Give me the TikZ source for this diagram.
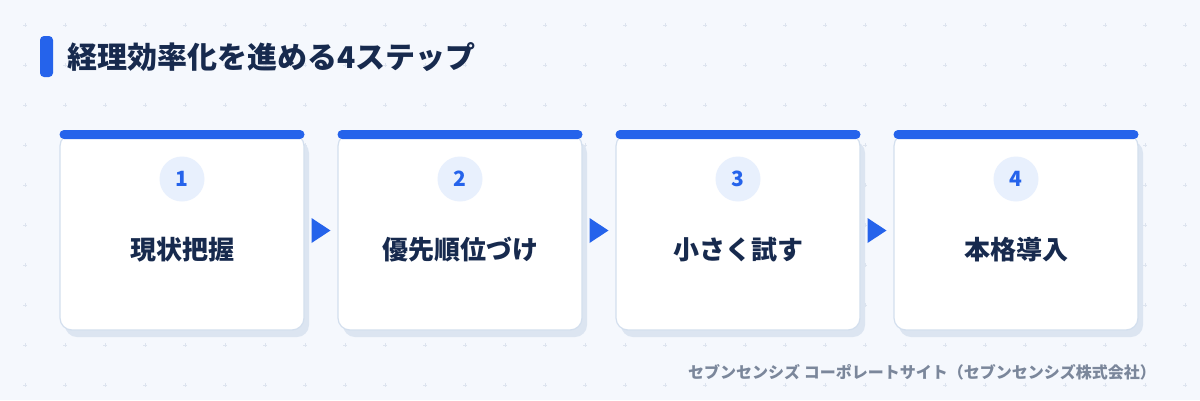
\documentclass[tikz,border=0pt]{standalone}
\usepackage{fontspec}
\setmainfont{Noto Sans CJK JP}
\usetikzlibrary{shapes,positioning,shadows,calc}
\definecolor{bgc}{HTML}{F5F8FD}
\definecolor{dotc}{HTML}{DDE4EF}
\definecolor{accent}{HTML}{2563EB}
\definecolor{navy}{HTML}{172A4E}
\definecolor{cardline}{HTML}{D3DFEE}
\definecolor{shadowc}{HTML}{DCE5F1}
\definecolor{numbg}{HTML}{E8F0FD}
\definecolor{footc}{HTML}{7B879B}

\begin{document}
\begin{tikzpicture}[x=1pt,y=-1pt,
  cardstyle/.style={rectangle,draw=cardline,line width=1.2pt,fill=white,rounded corners=12pt,
    minimum width=244pt,minimum height=196pt,
    drop shadow={shadow xshift=5pt,shadow yshift=-7pt,fill=shadowc,opacity=1}},
  barstyle/.style={rectangle,fill=accent,rounded corners=4.5pt,minimum width=245pt,minimum height=9pt,inner sep=0pt},
  numstyle/.style={circle,fill=numbg,minimum size=45pt,inner sep=0pt,text=accent,font=\bfseries\fontsize{21}{21}\selectfont},
  labelstyle/.style={text=navy,inner sep=0pt,font=\bfseries\fontsize{26}{26}\selectfont}]
\fill[bgc] (0,0) rectangle (1200,400);
\useasboundingbox (0,0) rectangle (1200,400);
% grid of small crosses
\foreach \x in {0,...,29}
 \foreach \y in {0,...,9}
  \draw[dotc,line width=0.9pt] (23+40*\x,25+40*\y) -- ++(4,0) (25+40*\x,23+40*\y) -- ++(0,4);

% title
\fill[accent,rounded corners=4pt] (40,36) rectangle (53,77);
\node[anchor=west,inner sep=0pt,text=navy,font=\bfseries\fontsize{30}{30}\selectfont] (title) at (67,57) {経理効率化を進める4ステップ};

% cards
\foreach \name [count=\i] in {現状把握,優先順位づけ,小さく試す,本格導入}
{\pgfmathtruncatemacro{\cx}{182+278*(\i-1)}
\node[cardstyle] (card\i) at (\cx,232) {};
\node[barstyle] (bar\i) at (\cx,134.5) {};
\node[numstyle] (num\i) at (\cx,179) {\i};
\node[labelstyle] (label\i) at (\cx,250) {\name};
}
\foreach \i [count=\j from 2] in {1,2,3}
{\coordinate (m\i) at ($(card\i.east)!0.5!(card\j.west)+(0,-1.5)$);
\fill[accent] ($(m\i)+(-9.5,-12.5)$) -- ($(m\i)+(9.5,0)$) -- ($(m\i)+(-9.5,12.5)$) -- cycle;
}

% footer
\node[anchor=east,inner sep=0pt,text=footc,font=\bfseries\fontsize{16}{16}\selectfont] (foot) at (1156,372) {セブンセンシズ コーポレートサイト（セブンセンシズ株式会社）};
\end{tikzpicture}
\end{document}
